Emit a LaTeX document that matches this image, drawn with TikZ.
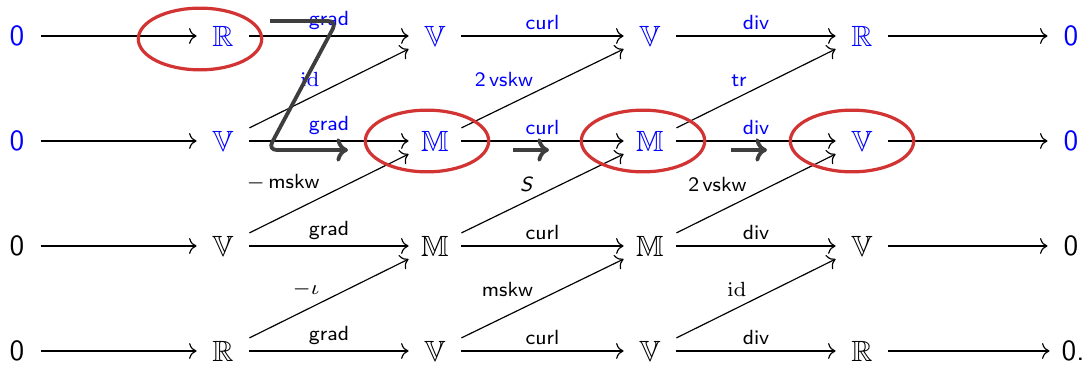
\documentclass[tikz,border=0pt]{standalone}
\usepackage{amsmath}
\usepackage{amssymb}
\usepackage{xcolor}
\usepackage{tikz}
\usetikzlibrary{arrows.meta}
\renewcommand{\familydefault}{\sfdefault}
\definecolor{ringred}{RGB}{210,52,52}
\definecolor{zgray}{RGB}{62,62,62}

\begin{document}
\begin{tikzpicture}[x=0.012cm, y=-0.012cm,
  obj/.style={minimum width=0.62cm, minimum height=0.3cm, inner sep=0pt},
  zero/.style={obj, minimum width=0.55cm},
  hi/.style={text=blue},
  arr/.style={-{Computer Modern Rightarrow[length=0.9mm, width=1.9mm]}},
  lbl/.style={font=\scriptsize, inner sep=2pt},
  dlbl/.style={lbl, pos=0.5, anchor=south east, inner xsep=3pt, inner ysep=0.5pt},
  ring/.style={draw=ringred, line width=1.1pt},
  fat/.style={draw=zgray, line width=1.3pt,
              -{Computer Modern Rightarrow[length=1.4mm, width=2.8mm]}}]

  \useasboundingbox (0,0) rectangle (1083,365);

  % top two rows (blue)
  \node[zero, hi] (a0) at (17,36)   {0};
  \node[obj,  hi] (a1) at (223,36)  {$\mathbb{R}$};
  \node[obj,  hi] (a2) at (435,36)  {$\mathbb{V}$};
  \node[obj,  hi] (a3) at (650,36)  {$\mathbb{V}$};
  \node[obj,  hi] (a4) at (862,36)  {$\mathbb{R}$};
  \node[zero, hi] (a5) at (1071,36) {0};

  \node[zero, hi] (b0) at (17,141)   {0};
  \node[obj,  hi] (b1) at (223,141)  {$\mathbb{V}$};
  \node[obj,  hi] (b2) at (435,141)  {$\mathbb{M}$};
  \node[obj,  hi] (b3) at (650,141)  {$\mathbb{M}$};
  \node[obj,  hi] (b4) at (862,141)  {$\mathbb{V}$};
  \node[zero, hi] (b5) at (1071,141) {0};

  % bottom two rows
  \node[zero] (c0) at (17,246)   {0};
  \node[obj]  (c1) at (223,246)  {$\mathbb{V}$};
  \node[obj]  (c2) at (435,246)  {$\mathbb{M}$};
  \node[obj]  (c3) at (650,246)  {$\mathbb{M}$};
  \node[obj]  (c4) at (862,246)  {$\mathbb{V}$};
  \node[zero] (c5) at (1071,246) {0};

  \node[zero] (d0) at (17,351)   {0};
  \node[obj]  (d1) at (223,351)  {$\mathbb{R}$};
  \node[obj]  (d2) at (435,351)  {$\mathbb{V}$};
  \node[obj]  (d3) at (650,351)  {$\mathbb{V}$};
  \node[obj]  (d4) at (862,351)  {$\mathbb{R}$};
  \node[zero] (d5) at (1073,351) {0.};

  \draw[arr] (a0) -- (a1);
  \draw[arr] (a1) -- node[lbl, hi, above] {grad} (a2);
  \draw[arr] (a2) -- node[lbl, hi, above] {curl} (a3);
  \draw[arr] (a3) -- node[lbl, hi, above] {div}  (a4);
  \draw[arr] (a4) -- (a5);

  \draw[arr] (b0) -- (b1);
  \draw[arr] (b1) -- node[lbl, hi, above] {grad} (b2);
  \draw[arr] (b2) -- node[lbl, hi, above] {curl} (b3);
  \draw[arr] (b3) -- node[lbl, hi, above] {div}  (b4);
  \draw[arr] (b4) -- (b5);

  \draw[arr] (c0) -- (c1);
  \draw[arr] (c1) -- node[lbl, above] {grad} (c2);
  \draw[arr] (c2) -- node[lbl, above] {curl} (c3);
  \draw[arr] (c3) -- node[lbl, above] {div}  (c4);
  \draw[arr] (c4) -- (c5);

  \draw[arr] (d0) -- (d1);
  \draw[arr] (d1) -- node[lbl, above] {grad} (d2);
  \draw[arr] (d2) -- node[lbl, above] {curl} (d3);
  \draw[arr] (d3) -- node[lbl, above] {div}  (d4);
  \draw[arr] (d4) -- (d5);

  % diagonals, one row up
  \draw[arr] (b1.north east) -- node[dlbl, hi] {$\mathrm{id}$} (a2.south west);
  \draw[arr] (b2.north east) -- node[dlbl, hi] {2\,vskw}       (a3.south west);
  \draw[arr] (b3.north east) -- node[dlbl, hi] {tr}            (a4.south west);

  \draw[arr] (c1.north east) -- node[dlbl] {$-$\,mskw}    (b2.south west);
  \draw[arr] (c2.north east) -- node[dlbl] {\textit{S}}   (b3.south west);
  \draw[arr] (c3.north east) -- node[dlbl] {2\,vskw}      (b4.south west);

  \draw[arr] (d1.north east) -- node[dlbl] {$-\iota$}        (c2.south west);
  \draw[arr] (d2.north east) -- node[dlbl] {mskw}            (c3.south west);
  \draw[arr] (d3.north east) -- node[dlbl] {$\mathrm{id}$}   (c4.south west);

  % highlighted spaces
  \draw[ring] (200,39)  ellipse [x radius=0.74cm, y radius=0.37cm];
  \draw[ring] (427,141) ellipse [x radius=0.74cm, y radius=0.37cm];
  \draw[ring] (643,141) ellipse [x radius=0.74cm, y radius=0.37cm];
  \draw[ring] (852,141) ellipse [x radius=0.74cm, y radius=0.37cm];

  % zig-zag and the two short fat arrows
  \coordinate (z1) at (270,21);
  \coordinate (z2) at (337,21);
  \coordinate (z3) at (268,150);
  \coordinate (z4) at (348,150);
  \draw[fat, rounded corners=3pt] (z1) -- (z2) -- (z3) -- (z4);

  \coordinate (s1) at (513,150);
  \coordinate (s2) at (549,150);
  \coordinate (t1) at (731,150);
  \coordinate (t2) at (767,150);
  \draw[fat] (s1) -- (s2);
  \draw[fat] (t1) -- (t2);
\end{tikzpicture}
\end{document}
